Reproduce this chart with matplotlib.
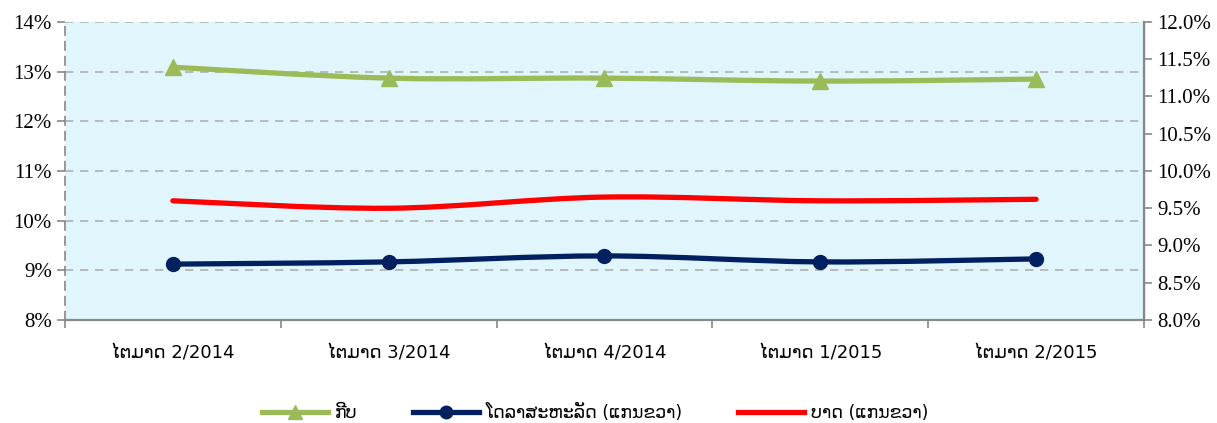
import matplotlib
matplotlib.use("Agg")
import matplotlib.pyplot as plt
from matplotlib.path import Path
from matplotlib.patches import PathPatch
from matplotlib.lines import Line2D
from matplotlib.ticker import FuncFormatter, FixedLocator

quarters = ["ໄຕມາດ 2/2014", "ໄຕມາດ 3/2014", "ໄຕມາດ 4/2014", "ໄຕມາດ 1/2015", "ໄຕມາດ 2/2015"]
kip = [13.09, 12.87, 12.87, 12.81, 12.85]          # left axis
usd = [8.75, 8.78, 8.86, 8.78, 8.82]               # right axis
thb = [9.60, 9.50, 9.65, 9.60, 9.62]               # right axis

labels = ["ກີບ", "ໂດລາສະຫະລັດ (ແກນຂວາ)", "ບາດ (ແກນຂວາ)"]
green = "#9BBB59"
navy = "#002060"
red = "#FF0000"


def smooth_path(xs, ys):
    # excel-like smoothed line: catmull-rom converted to bezier segments
    pts = list(zip(xs, ys))
    verts = [pts[0]]
    codes = [Path.MOVETO]
    n = len(pts)
    for i in range(n - 1):
        p0 = pts[i - 1] if i > 0 else pts[i]
        p1 = pts[i]
        p2 = pts[i + 1]
        p3 = pts[i + 2] if i + 2 < n else pts[i + 1]
        c1 = (p1[0] + (p2[0] - p0[0]) / 6, p1[1] + (p2[1] - p0[1]) / 6)
        c2 = (p2[0] - (p3[0] - p1[0]) / 6, p2[1] - (p3[1] - p1[1]) / 6)
        verts += [c1, c2, p2]
        codes += [Path.CURVE4] * 3
    return Path(verts, codes)


fig = plt.figure(figsize=(12.17, 4.23), dpi=100)
ax = fig.add_axes([0.0534, 0.2435, 0.8866, 0.7045])
ax2 = ax.twinx()

x = list(range(len(quarters)))
ax.set_facecolor("#E1F5FD")
ax.set_xlim(-0.5, len(quarters) - 0.5)
ax.set_ylim(8, 14)
ax2.set_ylim(8, 12)

ax.add_patch(PathPatch(smooth_path(x, kip), fill=False, color=green, lw=3.8,
                       capstyle="round", zorder=3))
ax.plot(x, kip, linestyle="none", marker="^", ms=11, color=green, zorder=4)

ax2.add_patch(PathPatch(smooth_path(x, thb), fill=False, color=red, lw=3.8,
                        capstyle="round", zorder=3))
ax2.add_patch(PathPatch(smooth_path(x, usd), fill=False, color=navy, lw=3.8,
                        capstyle="round", zorder=3))
ax2.plot(x, usd, linestyle="none", marker="o", ms=10, color=navy, zorder=4)

# grid + axes styling
ax.yaxis.grid(True, color="#B0B0B0", linestyle=(0, (5, 4)), lw=1.2)
ax.set_axisbelow(True)
ax.set_yticks(range(8, 15))
ax.yaxis.set_major_formatter(FuncFormatter(lambda v, p: f"{v:.0f}%"))
ax2.set_yticks([8 + 0.5 * i for i in range(9)])
ax2.yaxis.set_major_formatter(FuncFormatter(lambda v, p: f"{v:.1f}%"))

ax.set_xticks(x)
ax.set_xticklabels(quarters, fontsize=13, family=["DejaVu Sans"])
ax.xaxis.set_minor_locator(FixedLocator([i + 0.5 for i in range(-1, len(quarters))]))
ax.tick_params(axis="x", which="major", length=0, pad=18)
ax.tick_params(axis="x", which="minor", length=6, color="#888888", width=1.2)
ax.tick_params(axis="y", length=6, color="#888888", width=1.2, labelsize=15)
ax2.tick_params(axis="y", length=6, color="#888888", width=1.2, labelsize=15)
for lbl in ax.get_yticklabels() + ax2.get_yticklabels():
    lbl.set_family("Liberation Serif")

for a in (ax, ax2):
    a.spines["top"].set_visible(False)
ax.spines["left"].set_color("#888888")
ax.spines["left"].set_linestyle((0, (5, 4)))
ax.spines["left"].set_linewidth(1.2)
ax.spines["bottom"].set_color("#888888")
ax.spines["bottom"].set_linewidth(1.6)
ax2.spines["left"].set_visible(False)
ax2.spines["bottom"].set_visible(False)
ax2.spines["right"].set_color("#888888")
ax2.spines["right"].set_linewidth(1.6)

handles = [
    Line2D([], [], color=green, lw=3.8, marker="^", ms=10),
    Line2D([], [], color=navy, lw=3.8, marker="o", ms=9),
    Line2D([], [], color=red, lw=3.8),
]
fig.legend(handles, labels, loc="lower center", bbox_to_anchor=(0.489, -0.035), ncol=3,
           frameon=False, handlelength=3.8, columnspacing=3.2, handletextpad=0.4,
           prop={"family": "DejaVu Sans", "size": 12.5})

fig.savefig("out.png", dpi=100)
